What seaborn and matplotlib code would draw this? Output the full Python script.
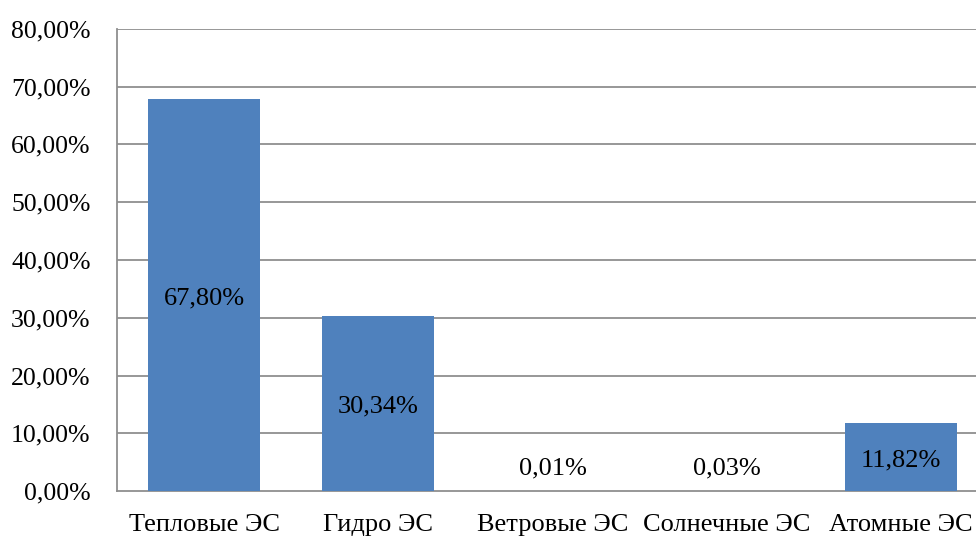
import matplotlib
matplotlib.use("Agg")
import matplotlib.pyplot as plt
import seaborn as sns
import pandas as pd

# Structure of electricity generation by plant type, %
categories = ["Тепловые ЭС", "Гидро ЭС", "Ветровые ЭС", "Солнечные ЭС", "Атомные ЭС"]
shares = [67.80, 30.34, 0.01, 0.03, 11.82]
y_ticks = [0, 10, 20, 30, 40, 50, 60, 70, 80]

sns.set_theme(style="white")
plt.rcParams["font.family"] = ["Liberation Serif", "DejaVu Serif"]

df = pd.DataFrame({"type": categories, "share": shares})

fig = plt.figure(figsize=(9.76, 5.36), dpi=100)
ax = fig.add_axes([117 / 976, 1 - 491.1 / 536, 871 / 976, 462.2 / 536])

sns.barplot(data=df, x="type", y="share", color="#4F81BD", saturation=1,
            width=0.643, linewidth=0, ax=ax, zorder=3)

ax.set_ylim(0, 80)
ax.set_xlim(-0.5, len(categories) - 0.5)
ax.set_yticks(y_ticks)
ax.set_yticklabels([f"{t:.2f}%".replace(".", ",") for t in y_ticks])
ax.set_xlabel("")
ax.set_ylabel("")

for t in y_ticks[1:]:
    ax.axhline(t, color="#8f8f8f", lw=1.3, zorder=1)

for s in ["top", "right"]:
    ax.spines[s].set_visible(False)
for s in ["left", "bottom"]:
    ax.spines[s].set_color("#8f8f8f")
    ax.spines[s].set_linewidth(1.3)

ax.tick_params(axis="both", length=0, colors="black")
ax.tick_params(axis="y", pad=19, labelsize=18.5)
ax.tick_params(axis="x", pad=16.5, labelsize=19)

# value labels centred in the bars, lifted for very small bars
for i, v in enumerate(shares):
    ax.annotate(f"{v:.2f}%".replace(".", ","), xy=(i, max(v / 2, 4.5)),
                xytext=(0, -2.5), textcoords="offset points",
                ha="center", va="center", fontsize=19, color="black", zorder=4)

fig.savefig("out.png", dpi=100)
